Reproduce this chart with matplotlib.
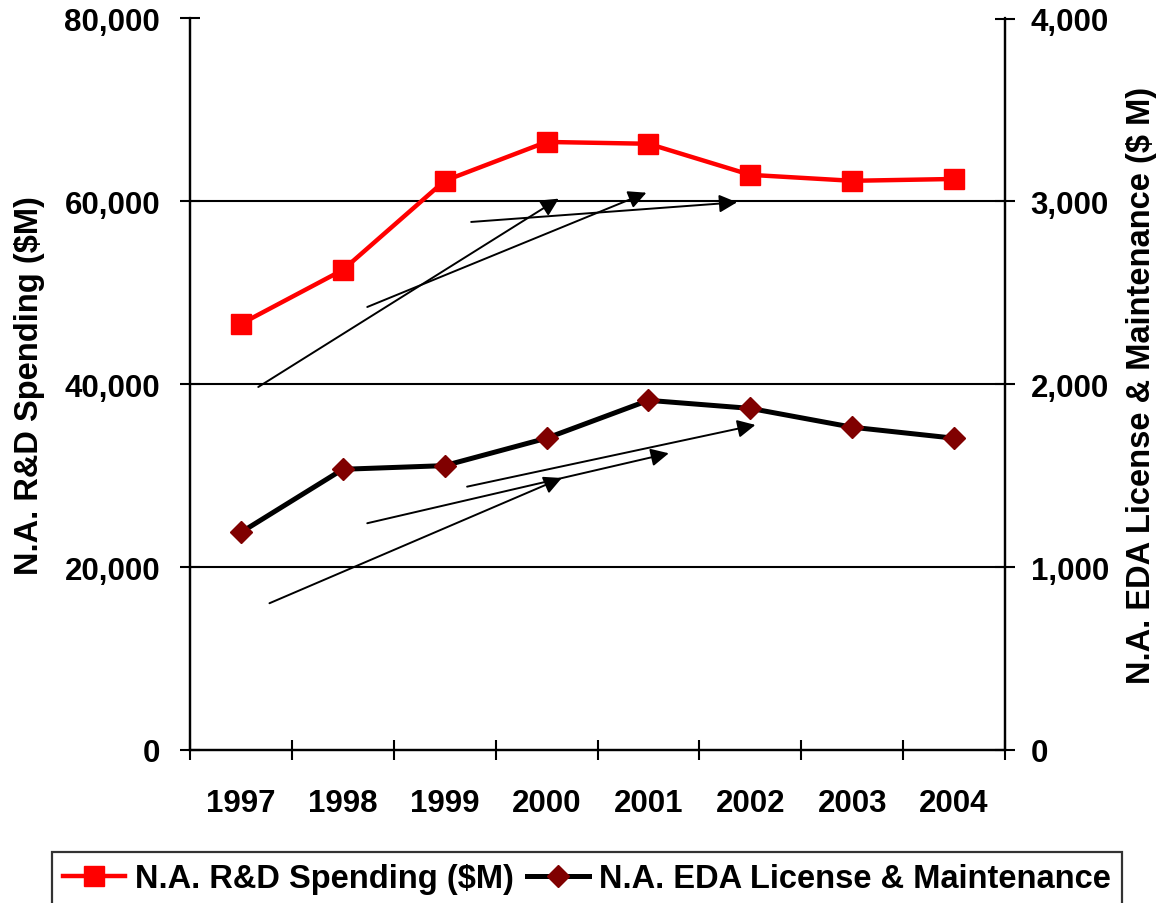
import numpy as np
import matplotlib.pyplot as plt
from matplotlib.ticker import FuncFormatter, FixedLocator

plt.rcParams['font.family'] = ['Liberation Sans', 'DejaVu Sans']
plt.rcParams['font.weight'] = 'bold'

years = ['1997', '1998', '1999', '2000', '2001', '2002', '2003', '2004']
rd_spending = [46600, 52500, 62250, 66500, 66300, 62900, 62250, 62450]  # $M, left axis
eda_license = [1190, 1535, 1555, 1705, 1912, 1868, 1765, 1705]  # $M, right axis

# hand-drawn arrows on the chart: (x_from, y_from, x_to, y_to) in category index / left-axis units
arrows = [
    (0.17, 39700, 3.12, 60300),
    (1.24, 48450, 3.98, 60950),
    (2.26, 57750, 4.87, 59900),
    (0.28, 16050, 3.15, 29750),
    (1.24, 24800, 4.20, 32450),
    (2.22, 28800, 5.05, 35550),
]

fs = 22.5
x = np.arange(len(years))

fig = plt.figure(figsize=(11.65, 9.04), dpi=100)
ax = fig.add_axes([190/1165, 1 - 751/904, 815/1165, (751 - 19.5)/904])
ax2 = ax.twinx()

ax.plot(x, rd_spending, color='#ff0000', lw=3.2, marker='s', ms=14.4,
        mec='#ff0000', mfc='#ff0000', label='N.A. R&D Spending ($M)', zorder=3)
ax2.plot(x, eda_license, color='black', lw=3.6, marker='D', ms=11.2,
         mec='#800000', mfc='#800000', label='N.A. EDA License & Maintenance', zorder=3)

ax.set_xlim(-0.5, len(years) - 0.5)
ax.set_ylim(0, 80000)
ax2.set_ylim(0, 4000)
ax.set_yticks([0, 20000, 40000, 60000, 80000])
ax2.set_yticks([0, 1000, 2000, 3000, 4000])
fmt = FuncFormatter(lambda v, p: f'{int(v):,}')
ax.yaxis.set_major_formatter(fmt)
ax2.yaxis.set_major_formatter(fmt)

for yv in [20000, 40000, 60000]:
    ax.axhline(yv, color='black', lw=1.5, zorder=1)

ax.set_xticks(x)
ax.set_xticklabels(years)
ax.xaxis.set_minor_locator(FixedLocator(np.arange(-0.5, len(years), 1.0)))
ax.tick_params(axis='x', which='major', length=0, pad=27, labelsize=fs)
ax.tick_params(axis='x', which='minor', direction='inout', length=15, width=1.5)
ax.tick_params(axis='y', direction='inout', length=15, width=1.5, pad=14, labelsize=fs)
ax2.tick_params(axis='y', direction='inout', length=15, width=1.5, pad=11, labelsize=fs)

for a in (ax, ax2):
    a.spines['top'].set_visible(False)
    for s in ('left', 'right', 'bottom'):
        a.spines[s].set_linewidth(1.6)

ax.set_ylabel('N.A. R&D Spending ($M)', fontsize=23.5, fontweight='bold', va='center')
ax.yaxis.set_label_coords((30 - 190)/815, 0.5)
ax2.set_ylabel('N.A. EDA License & Maintenance ($ M)', fontsize=23.5, fontweight='bold',
               va='center', rotation=90)
ax2.yaxis.set_label_coords((1142 - 190)/815, 0.5)

for x0, y0, x1, y1 in arrows:
    ax2.annotate('', xy=(x1, y1), xytext=(x0, y0), xycoords=ax.transData,
                 textcoords=ax.transData,
                 arrowprops=dict(arrowstyle='-|>', color='black', lw=1.4,
                                 mutation_scale=27, shrinkA=0, shrinkB=0),
                 zorder=4)

h1, l1 = ax.get_legend_handles_labels()
h2, l2 = ax2.get_legend_handles_labels()
leg = fig.legend(h1 + h2, l1 + l2, loc='upper left', bbox_to_anchor=(52/1165, 1 - 853/904),
                 ncol=2, fontsize=23.5, frameon=True, fancybox=False, borderpad=0.35,
                 handlelength=1.9, handletextpad=0.3, columnspacing=0.4, borderaxespad=0)
leg.get_frame().set_edgecolor('black')
leg.get_frame().set_linewidth(1.6)

fig.savefig('out.png', dpi=100)
